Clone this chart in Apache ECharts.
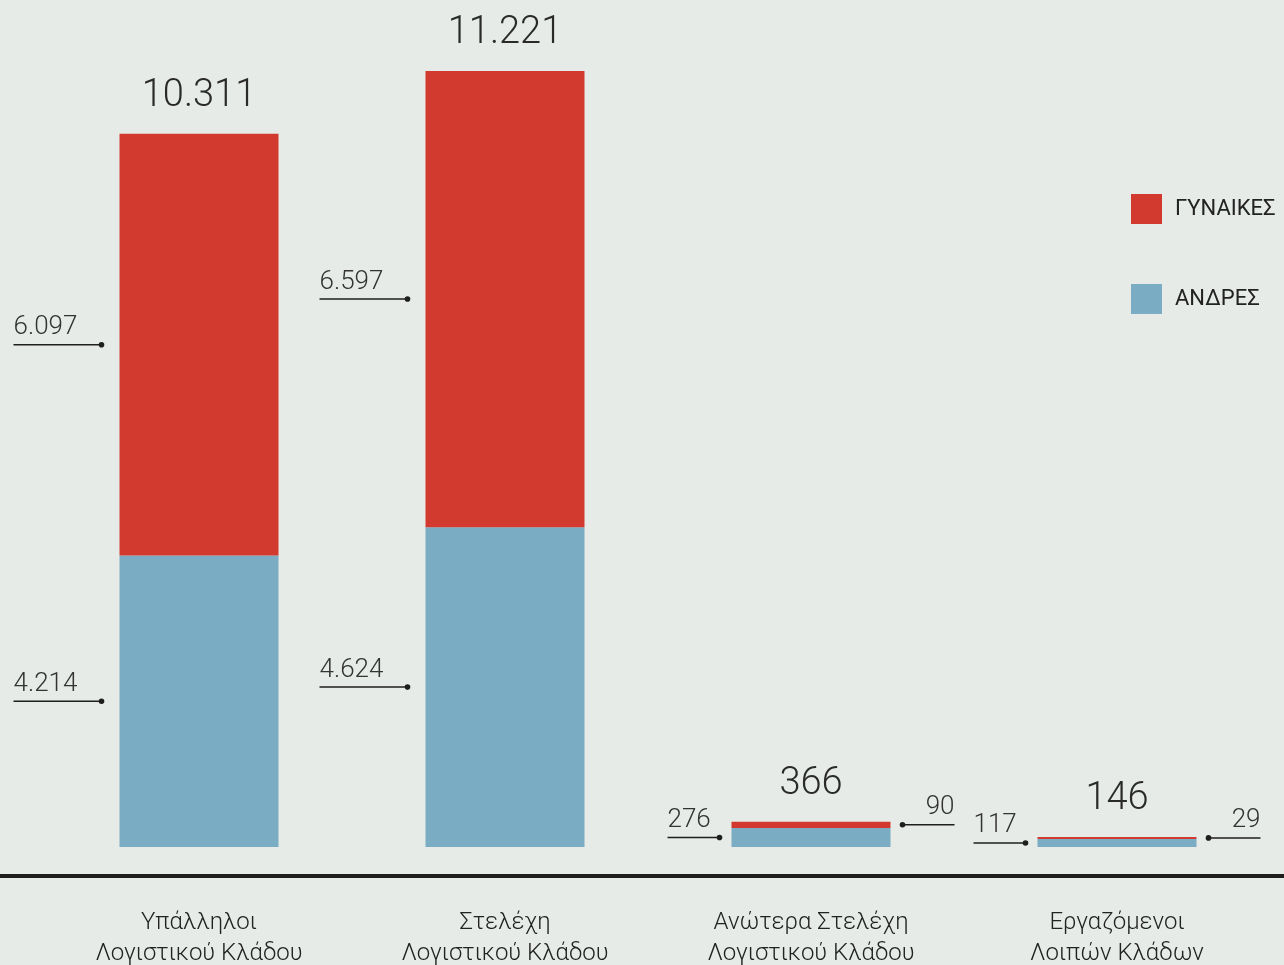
<!DOCTYPE html>
<html>
<head>
<meta charset="utf-8">
<script src="https://cdn.jsdelivr.net/npm/echarts@6/dist/echarts.min.js"></script>
<style>
  html, body { margin: 0; padding: 0; background: #e6ebe7; }
  #chart { width: 1284px; height: 965px; }
</style>
</head>
<body>
<div id="chart"></div>
<script>
var categories = ['Υπάλληλοι\nΛογιστικού Κλάδου', 'Στελέχη\nΛογιστικού Κλάδου', 'Ανώτερα Στελέχη\nΛογιστικού Κλάδου', 'Εργαζόμενοι\nΛοιπών Κλάδων'];
var men = [4214, 4624, 276, 117];
var women = [6097, 6597, 90, 29];
var totals = [10311, 11221, 366, 146];

var FONT = 'Roboto';
var BAR_W = 159;

function fmt(n) {
  return String(n).replace(/\B(?=(\d{3})+(?!\d))/g, '.');
}

// annotation items: [category, from, to, value, isTop]
var notes = [];
for (var i = 0; i < categories.length; i++) {
  notes.push([i, 0, men[i], men[i], 0]);
  notes.push([i, men[i], men[i] + women[i], women[i], 1]);
}

var chart = echarts.init(document.getElementById('chart'));

chart.setOption({
  backgroundColor: '#e6ebe7',
  animation: false,
  textStyle: { fontFamily: FONT },
  color: ['#d33a2f', '#7aacc3'],
  legend: {
    data: ['ΓΥΝΑΙΚΕΣ', 'ΑΝΔΡΕΣ'],
    orient: 'vertical',
    left: 1131,
    top: 194,
    padding: 0,
    itemWidth: 31,
    itemHeight: 30,
    itemGap: 60,
    icon: 'rect',
    textStyle: { fontSize: 22, color: '#222', fontFamily: FONT, padding: [4, 0, 0, 8] }
  },
  grid: { left: 46, right: 14, top: 17, bottom: 118, outerBoundsMode: 'none', containLabel: false },
  xAxis: {
    type: 'category',
    data: categories,
    axisLine: { show: false },
    axisTick: { show: false },
    axisLabel: {
      margin: 60,
      fontSize: 24,
      lineHeight: 31,
      color: '#222',
      fontWeight: 300,
      fontFamily: FONT,
      interval: 0
    }
  },
  yAxis: {
    type: 'value',
    min: 0,
    max: 12000,
    show: false
  },
  graphic: [{
    type: 'rect',
    shape: { x: 0, y: 874, width: 1284, height: 4 },
    style: { fill: '#1e1e1e' }
  }],
  series: [
    {
      name: 'ΑΝΔΡΕΣ',
      type: 'bar',
      stack: 'total',
      barWidth: BAR_W,
      itemStyle: { color: '#7aacc3' },
      data: men
    },
    {
      name: 'ΓΥΝΑΙΚΕΣ',
      type: 'bar',
      stack: 'total',
      barWidth: BAR_W,
      itemStyle: { color: '#d33a2f' },
      label: {
        show: true,
        position: 'top',
        distance: 18,
        fontSize: 38,
        fontWeight: 300,
        fontFamily: FONT,
        color: '#2a2a2a',
        formatter: function (p) { return fmt(totals[p.dataIndex]); }
      },
      data: women
    },
    {
      type: 'custom',
      silent: true,
      z: 10,
      encode: { x: 0, y: [1, 2] },
      data: notes,
      renderItem: function (params, api) {
        var c = api.value(0);
        var lo = api.coord([c, api.value(1)]);
        var hi = api.coord([c, api.value(2)]);
        var base = api.coord([c, 0]);
        var top = api.coord([c, totals[c]]);
        var small = (base[1] - top[1]) < 60;
        var isTop = api.value(4) === 1;
        var y = (lo[1] + hi[1]) / 2;
        var gap = small ? 12 : 18;
        var len = small ? 52 : 88;
        var right = isTop && (lo[1] - hi[1]) < 20;
        var dotX, endX, align;
        if (right) {
          dotX = lo[0] + BAR_W / 2 + gap;
          endX = dotX + len;
          align = 'right';
        } else {
          dotX = lo[0] - BAR_W / 2 - gap;
          endX = dotX - len;
          align = 'left';
        }
        return {
          type: 'group',
          children: [
            {
              type: 'line',
              shape: { x1: endX, y1: y, x2: dotX, y2: y },
              style: { stroke: '#1e1e1e', lineWidth: 1.5 }
            },
            {
              type: 'circle',
              shape: { cx: dotX, cy: y, r: 2.8 },
              style: { fill: '#1e1e1e' }
            },
            {
              type: 'text',
              style: {
                text: fmt(api.value(3)),
                x: endX,
                y: y - 4,
                textAlign: align,
                textVerticalAlign: 'bottom',
                font: '300 26px ' + FONT,
                fill: '#333'
              }
            }
          ]
        };
      }
    }
  ]
});
</script>
</body>
</html>
